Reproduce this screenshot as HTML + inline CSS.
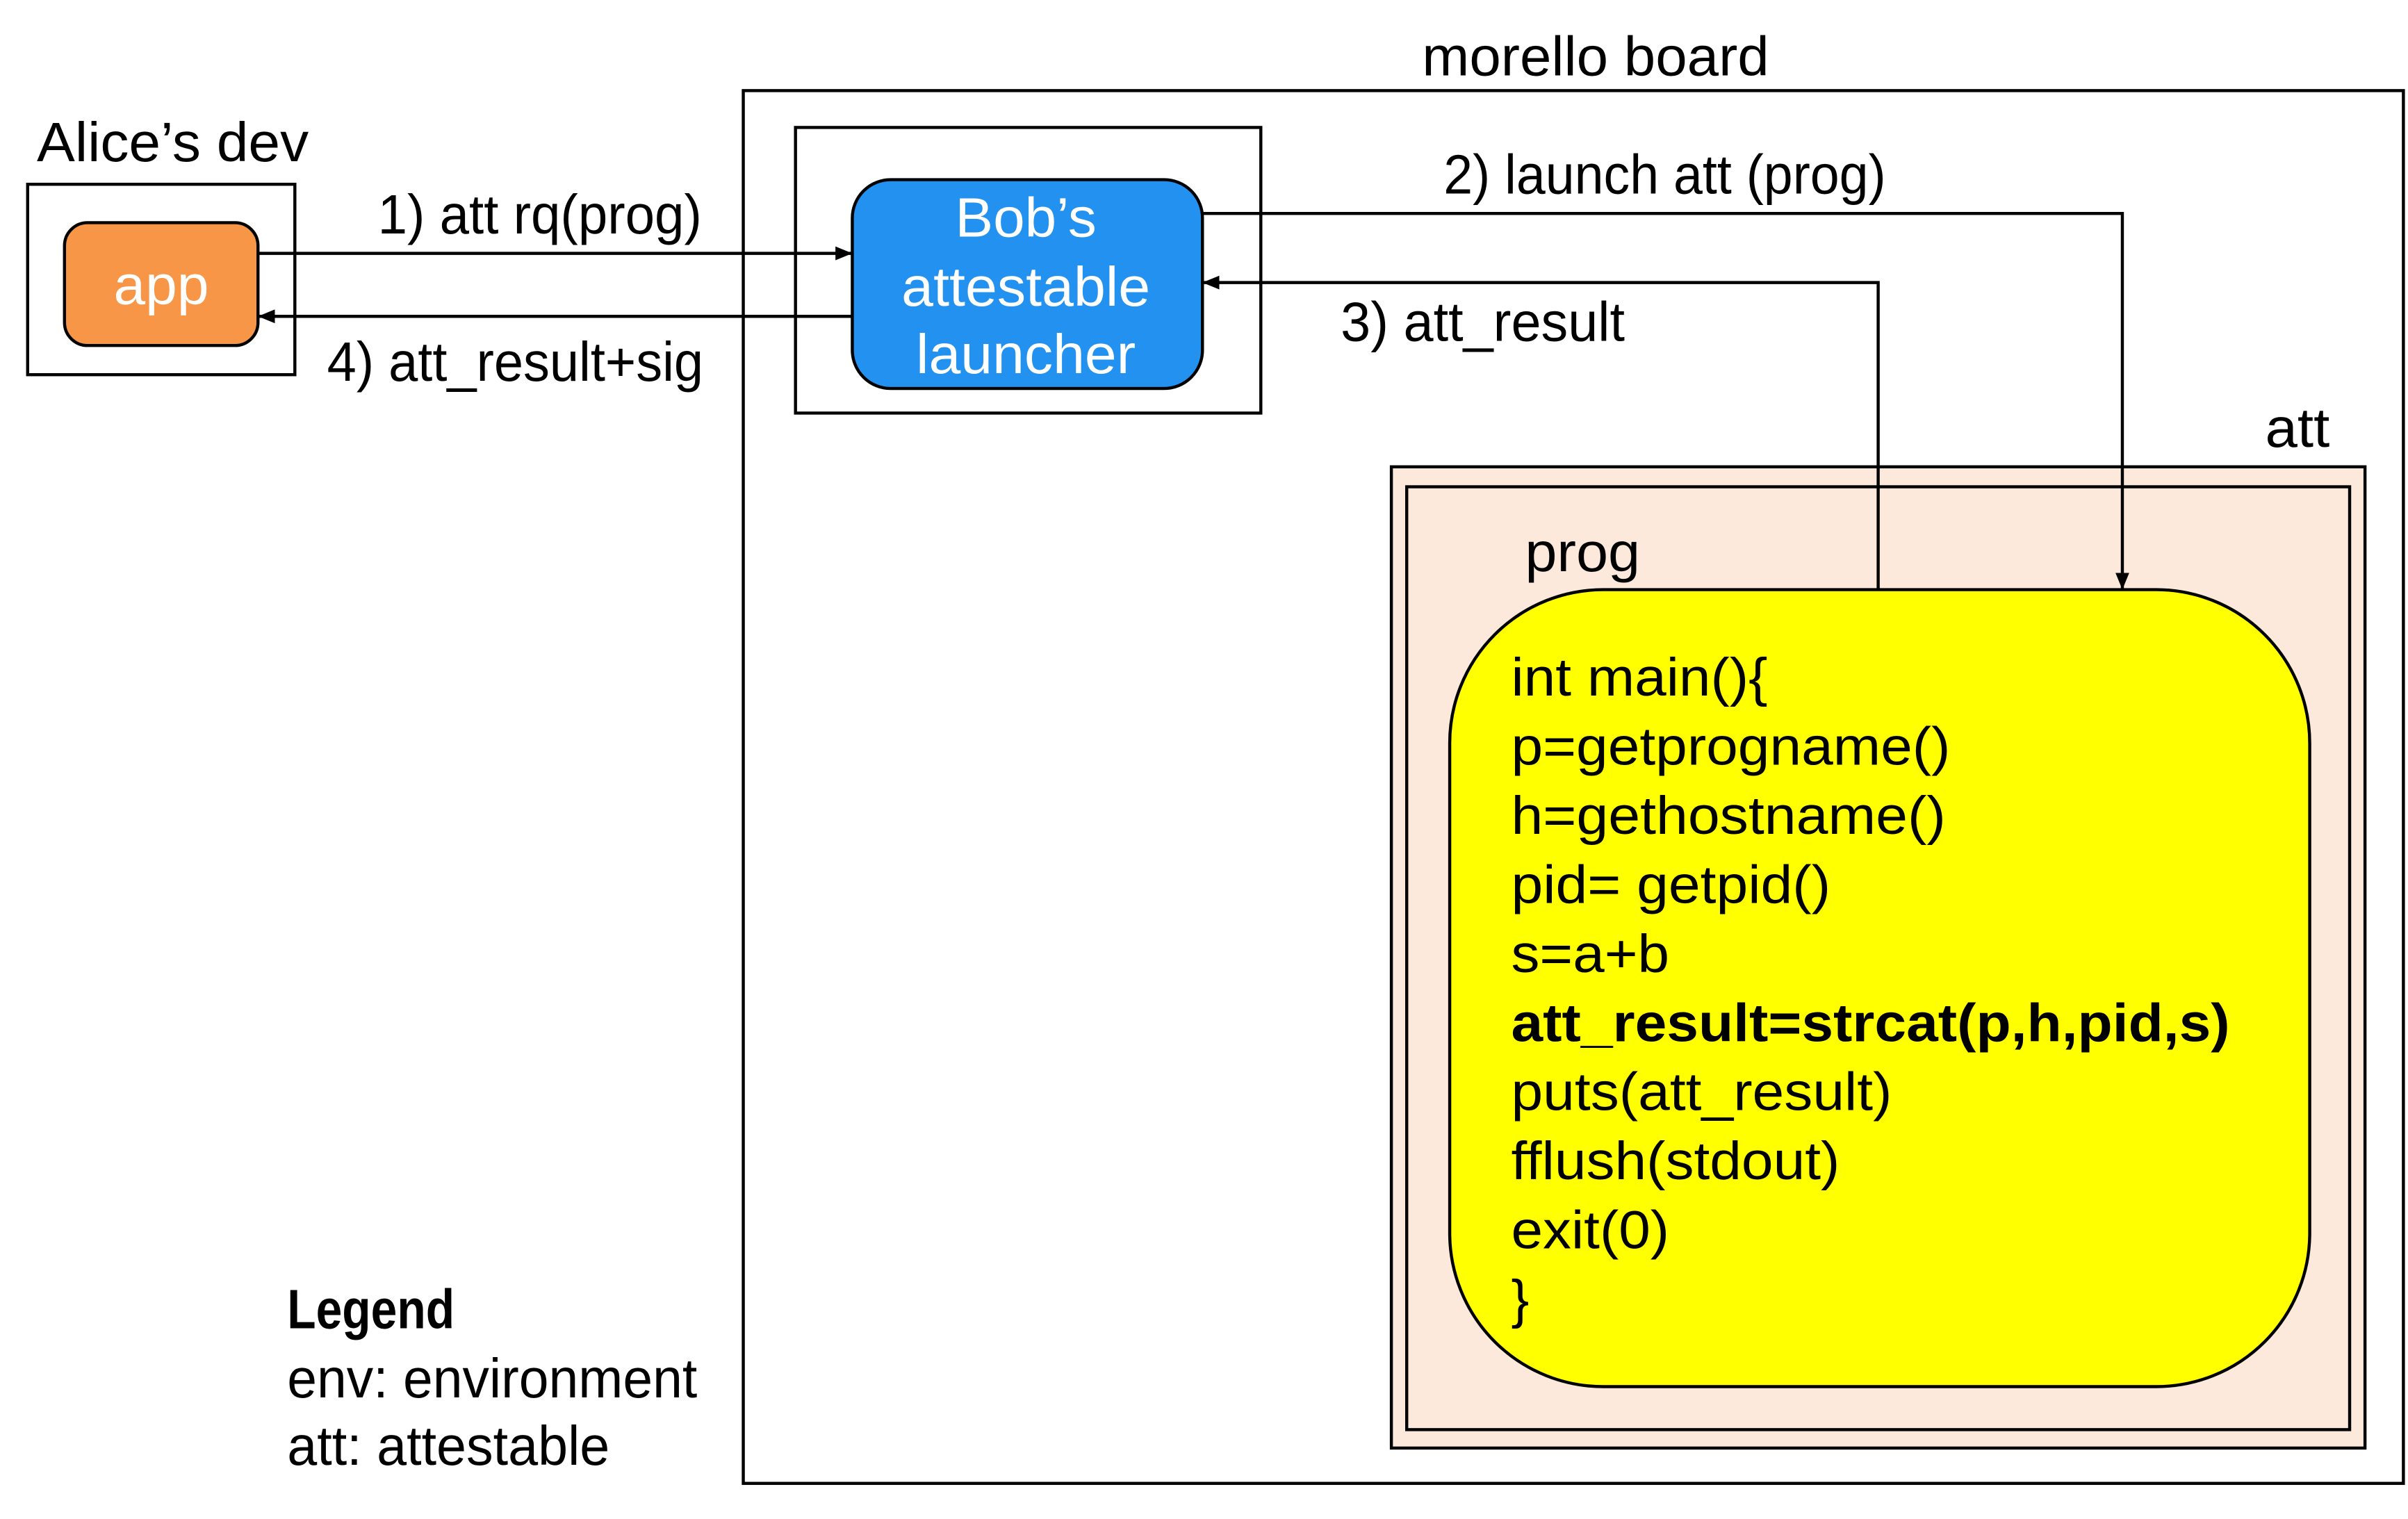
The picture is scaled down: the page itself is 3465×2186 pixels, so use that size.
<!DOCTYPE html>
<html><head><meta charset="utf-8"><style>
html,body{margin:0;padding:0;background:#fff;}
svg{display:block;}
.lbl{font-family:"Liberation Sans",sans-serif;font-size:36px;fill:#000;}
.code{font-family:"Liberation Sans",sans-serif;font-size:35px;fill:#000;}
</style></head><body>
<svg width="3465" height="2186" viewBox="0 0 1568 989.2" preserveAspectRatio="none" xmlns="http://www.w3.org/2000/svg">
<defs>
<marker id="ah" markerWidth="11" markerHeight="9" refX="11" refY="4.5" orient="auto" markerUnits="userSpaceOnUse"><path d="M0,0 L11,4.5 L0,9 z" fill="#000"/></marker>
</defs>
<rect x="0" y="0" width="1568" height="989.2" fill="#fff"/>

<text class="lbl" x="926" y="49" textLength="226" lengthAdjust="spacingAndGlyphs">morello board</text>
<rect x="484" y="59" width="1081" height="907" fill="none" stroke="#000" stroke-width="2"/>

<text class="lbl" x="24" y="105" textLength="177" lengthAdjust="spacingAndGlyphs">Alice’s dev</text>
<rect x="18" y="120" width="174" height="124" fill="none" stroke="#000" stroke-width="2"/>
<rect x="42" y="145" width="126" height="80" rx="15" fill="#F79646" stroke="#000" stroke-width="2"/>
<text class="lbl" x="105" y="198" text-anchor="middle" style="fill:#fff" textLength="62" lengthAdjust="spacingAndGlyphs">app</text>

<rect x="518" y="83" width="303" height="186" fill="none" stroke="#000" stroke-width="2"/>
<rect x="555" y="117" width="228" height="136" rx="25" fill="#2291F0" stroke="#000" stroke-width="2"/>
<text class="lbl" x="668" y="154" text-anchor="middle" style="fill:#fff" textLength="92" lengthAdjust="spacingAndGlyphs">Bob’s</text>
<text class="lbl" x="668" y="199" text-anchor="middle" style="fill:#fff" textLength="162" lengthAdjust="spacingAndGlyphs">attestable</text>
<text class="lbl" x="668" y="243" text-anchor="middle" style="fill:#fff" textLength="143" lengthAdjust="spacingAndGlyphs">launcher</text>

<line x1="168" y1="165" x2="555" y2="165" stroke="#000" stroke-width="2" marker-end="url(#ah)"/>
<text class="lbl" x="246" y="152" textLength="211" lengthAdjust="spacingAndGlyphs">1) att rq(prog)</text>
<line x1="555" y1="206" x2="168" y2="206" stroke="#000" stroke-width="2" marker-end="url(#ah)"/>
<text class="lbl" x="213" y="248" textLength="245" lengthAdjust="spacingAndGlyphs">4) att_result+sig</text>

<text class="lbl" x="940" y="126" textLength="288" lengthAdjust="spacingAndGlyphs">2) launch att (prog)</text>
<text class="lbl" x="873" y="222" textLength="185" lengthAdjust="spacingAndGlyphs">3) att_result</text>

<text class="lbl" x="1475" y="291" textLength="42" lengthAdjust="spacingAndGlyphs">att</text>
<rect x="906" y="304" width="634" height="639" fill="#FDE9DB" stroke="#000" stroke-width="2"/>
<rect x="916" y="317" width="614" height="614" fill="none" stroke="#000" stroke-width="2"/>
<text class="lbl" x="993" y="372" textLength="75" lengthAdjust="spacingAndGlyphs">prog</text>
<rect x="944" y="384" width="560" height="519" rx="100" fill="#FFFF00" stroke="#000" stroke-width="2"/>

<polyline points="783,139 1382,139 1382,384" fill="none" stroke="#000" stroke-width="2" marker-end="url(#ah)"/>
<polyline points="1223,384 1223,184 783,184" fill="none" stroke="#000" stroke-width="2" marker-end="url(#ah)"/>

<g>
<text class="code" x="984" y="453" textLength="167" lengthAdjust="spacingAndGlyphs">int main(){</text>
<text class="code" x="984" y="498" textLength="286" lengthAdjust="spacingAndGlyphs">p=getprogname()</text>
<text class="code" x="984" y="543" textLength="283" lengthAdjust="spacingAndGlyphs">h=gethostname()</text>
<text class="code" x="984" y="588" textLength="208" lengthAdjust="spacingAndGlyphs">pid= getpid()</text>
<text class="code" x="984" y="633" textLength="103" lengthAdjust="spacingAndGlyphs">s=a+b</text>
<text class="code" x="984" y="678" font-weight="bold" textLength="468" lengthAdjust="spacingAndGlyphs">att_result=strcat(p,h,pid,s)</text>
<text class="code" x="984" y="723" textLength="248" lengthAdjust="spacingAndGlyphs">puts(att_result)</text>
<text class="code" x="984" y="768" textLength="214" lengthAdjust="spacingAndGlyphs">fflush(stdout)</text>
<text class="code" x="984" y="813" textLength="103" lengthAdjust="spacingAndGlyphs">exit(0)</text>
<text class="code" x="984" y="858">}</text>
</g>

<g>
<text class="lbl" x="187" y="865" font-weight="bold" textLength="109" lengthAdjust="spacingAndGlyphs">Legend</text>
<text class="lbl" x="187" y="910" textLength="267" lengthAdjust="spacingAndGlyphs">env: environment</text>
<text class="lbl" x="187" y="954" textLength="210" lengthAdjust="spacingAndGlyphs">att: attestable</text>
</g>
</svg>
</body></html>
